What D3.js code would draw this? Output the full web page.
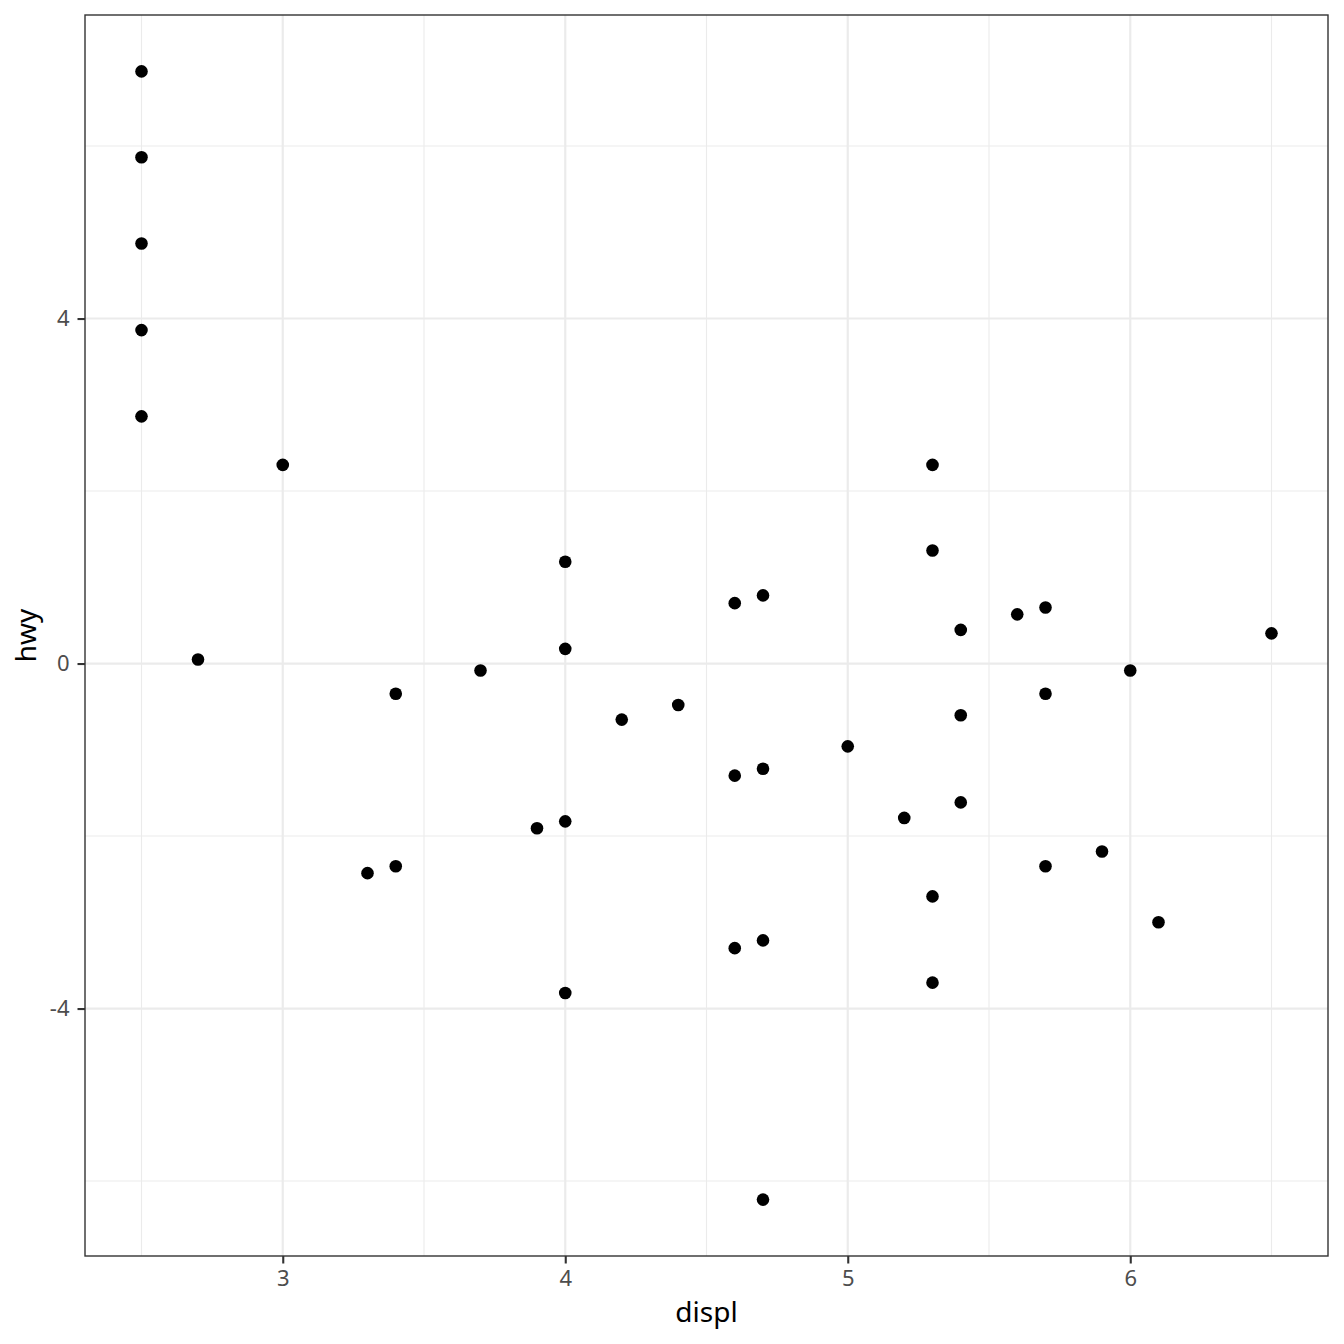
<!DOCTYPE html>
<html>
<head>
<meta charset="utf-8">
<script src="https://cdn.jsdelivr.net/npm/d3@7"></script>
<style>
  body { margin: 0; background: white; }
  text { font-family: "Noto Sans", "Open Sans", sans-serif; }
</style>
</head>
<body>
<div id="vis"></div>
<script>
// data
const displ = [2.5, 2.5, 2.5, 2.5, 2.5, 2.7, 3.0, 3.3, 3.4, 3.4,
  3.7, 3.9, 4.0, 4.0, 4.0, 4.0, 4.2, 4.4, 4.6, 4.6,
  4.6, 4.7, 4.7, 4.7, 4.7, 5.0, 5.2, 5.3, 5.3, 5.3,
  5.3, 5.4, 5.4, 5.4, 5.6, 5.7, 5.7, 5.7, 5.9, 6.0,
  6.1, 6.5];
const hwy = [6.865, 5.869, 4.869, 3.866, 2.866, 0.046, 2.303, -2.43, -0.35, -2.35,
  -0.08, -1.91, 1.18, 0.17, -1.83, -3.82, -0.65, -0.48, 0.70, -1.30,
  -3.30, 0.79, -1.22, -3.21, -6.215, -0.96, -1.79, 2.303, 1.31, -2.70,
  -3.70, 0.39, -0.60, -1.61, 0.57, 0.65, -0.35, -2.35, -2.18, -0.08,
  -3.00, 0.35];
const xTicks = [3, 4, 5, 6];
const xMinor = [2.5, 3.5, 4.5, 5.5, 6.5];
const yTicks = [-4, 0, 4];
const yMinor = [-6, -2, 2, 6];

const W = 1344, H = 1344;
const margin = { top: 15, right: 16, bottom: 88, left: 85 };
const width = W - margin.left - margin.right,
  height = H - margin.top - margin.bottom;

const svg = d3.select("#vis").append("svg")
  .attr("width", W).attr("height", H)
  .style("background-color", "white");

// ggplot style 5% expansion
function expand(ext) {
  const r = ext[1] - ext[0];
  return [ext[0] - 0.05 * r, ext[1] + 0.05 * r];
}

const x = d3.scaleLinear().domain(expand(d3.extent(displ))).range([0, width]);
const y = d3.scaleLinear().domain(expand(d3.extent(hwy))).range([height, 0]);

const g = svg.append("g").attr("transform", `translate(${margin.left},${margin.top})`);

// minor grid
g.selectAll(".vminor").data(xMinor).join("line")
  .attr("x1", d => x(d)).attr("x2", d => x(d))
  .attr("y1", 0).attr("y2", height)
  .attr("stroke", "#ebebeb").attr("stroke-width", 1.1);
g.selectAll(".hminor").data(yMinor).join("line")
  .attr("y1", d => y(d)).attr("y2", d => y(d))
  .attr("x1", 0).attr("x2", width)
  .attr("stroke", "#ebebeb").attr("stroke-width", 1.1);

// major grid
g.selectAll(".vmajor").data(xTicks).join("line")
  .attr("x1", d => x(d)).attr("x2", d => x(d))
  .attr("y1", 0).attr("y2", height)
  .attr("stroke", "#ebebeb").attr("stroke-width", 2.2);
g.selectAll(".hmajor").data(yTicks).join("line")
  .attr("y1", d => y(d)).attr("y2", d => y(d))
  .attr("x1", 0).attr("x2", width)
  .attr("stroke", "#ebebeb").attr("stroke-width", 2.2);

// points
g.selectAll("circle").data(displ).join("circle")
  .attr("cx", d => x(d))
  .attr("cy", (d, i) => y(hwy[i]))
  .attr("r", 6.3)
  .attr("fill", "black");

// panel border
g.append("rect")
  .attr("width", width).attr("height", height)
  .attr("fill", "none").attr("stroke", "#333333").attr("stroke-width", 1.4);

// axes
const xAxis = g.append("g").attr("transform", `translate(0,${height})`)
  .call(d3.axisBottom(x).tickValues(xTicks).tickSize(7.5).tickPadding(7).tickFormat(d3.format("d")));
const yAxis = g.append("g")
  .call(d3.axisLeft(y).tickValues(yTicks).tickSize(7.5).tickPadding(8).tickFormat(d => d < 0 ? "-" + Math.abs(d) : d));

[xAxis, yAxis].forEach(a => {
  a.attr("font-size", 22).attr("font-family", null);
  a.select(".domain").remove();
  a.selectAll(".tick line").attr("stroke", "#333333").attr("stroke-width", 2.1);
  a.selectAll(".tick text").attr("fill", "#4d4d4d").style("font-size", "22px");
});

// axis titles
svg.append("text")
  .attr("x", margin.left + width / 2).attr("y", 1322)
  .attr("text-anchor", "middle").style("font-size", "28px").attr("fill", "black")
  .text("displ");
svg.append("text")
  .attr("transform", `translate(36,${margin.top + height / 2}) rotate(-90)`)
  .attr("text-anchor", "middle").style("font-size", "28px").attr("fill", "black")
  .text("hwy");
</script>
</body>
</html>
